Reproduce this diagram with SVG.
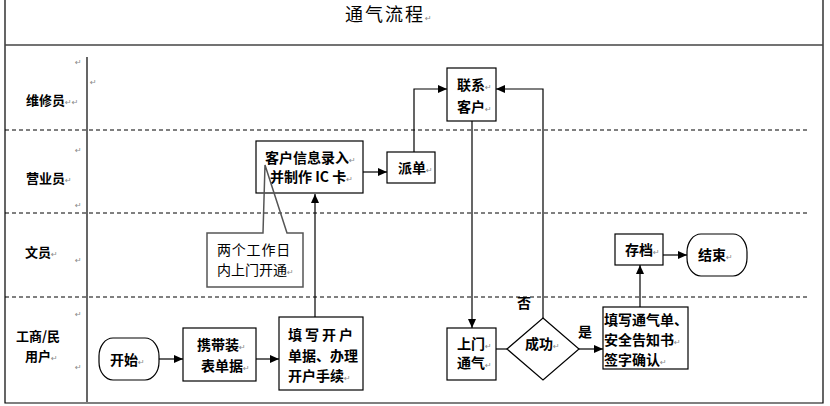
<svg xmlns="http://www.w3.org/2000/svg" width="830" height="406" viewBox="0 0 830 406">
<style>
  .t { font-family: "Noto Sans CJK SC", "Liberation Sans", sans-serif; font-size: 14px; font-weight: bold; fill: #000; }
  .lane { font-family: "Noto Sans CJK SC", "Liberation Sans", sans-serif; font-size: 13px; font-weight: bold; fill: #000; }
  .reg { font-family: "Noto Sans CJK SC", "Liberation Sans", sans-serif; font-size: 14px; font-weight: normal; fill: #000; }
  .title { font-family: "Noto Sans CJK SC", "Liberation Serif", serif; font-size: 18px; letter-spacing: 2px; fill: #000; }
  .pm { font-family: "DejaVu Sans", sans-serif; font-size: 8px; font-weight: normal; letter-spacing: 0; fill: #888; }
  .box { fill: #fff; stroke: #000; stroke-width: 1.2; }
  .dash { stroke: #000; stroke-width: 1; stroke-dasharray: 4 3; fill: none; }
  .conn { stroke: #000; stroke-width: 1.2; fill: none; }
  .arr { marker-end: url(#ah); }
</style>
<defs>
  <marker id="ah" markerUnits="userSpaceOnUse" markerWidth="10" markerHeight="8" refX="9" refY="4" orient="auto">
    <path d="M0,0 L9,4 L0,8 Z" fill="#000"/>
  </marker>
</defs>
<rect x="0" y="0" width="830" height="406" fill="#fff"/>

<!-- frame & lanes -->
<g id="frame">
  <polyline points="5,0 5,403 823,403 823,0" fill="none" stroke="#000" stroke-width="1.2"/>
  <line x1="5" y1="45" x2="823" y2="45" stroke="#444" stroke-width="1.5"/>
  <line x1="87" y1="57" x2="87" y2="402" stroke="#000" stroke-width="1.2"/>
  <line class="dash" x1="5" y1="130" x2="808" y2="130"/>
  <line class="dash" x1="5" y1="213" x2="808" y2="213"/>
  <line class="dash" x1="5" y1="297" x2="808" y2="297"/>
  <text class="title" x="345" y="21">通气流程<tspan class="pm" font-size="9">↵</tspan></text>
</g>

<g id="lane-labels">
  <text class="lane" x="26" y="105">维修员<tspan class="pm">↵↵</tspan></text>
  <text class="lane" x="26" y="183">营业员<tspan class="pm">↵</tspan></text>
  <text class="lane" x="25" y="257">文员<tspan class="pm">↵</tspan></text>
  <text class="lane" x="16" y="341">工商/民</text>
  <text class="lane" x="25" y="361">用户<tspan class="pm">↵</tspan></text>
  <text class="pm" x="75" y="65">↵</text>
  <text class="pm" x="90" y="85">↵</text>
  <text class="pm" x="75" y="153">↵</text>
  <text class="pm" x="75" y="208">↵</text>
  <text class="pm" x="75" y="263">↵</text>
  <text class="pm" x="75" y="317">↵</text>
  <text class="pm" x="75" y="370">↵</text>
</g>

<!-- connectors -->
<g id="connectors">
  <line class="conn arr" x1="159" y1="359" x2="183" y2="359"/>
  <line class="conn arr" x1="256" y1="359" x2="279" y2="359"/>
  <line class="conn arr" x1="315" y1="317" x2="315" y2="194"/>
  <line class="conn arr" x1="363" y1="172" x2="387" y2="172"/>
  <polyline class="conn arr" points="414,152 414,89 447,89"/>
  <line class="conn arr" x1="472" y1="121" x2="472" y2="328"/>
  <line class="conn" x1="496" y1="349" x2="507" y2="349"/>
  <polyline class="conn arr" points="543,318 543,89 496,89"/>
  <line class="conn arr" x1="579" y1="349" x2="603" y2="349"/>
  <line class="conn arr" x1="640" y1="307" x2="640" y2="265"/>
  <line class="conn arr" x1="663" y1="255" x2="687" y2="255"/>
  <text class="t" x="517" y="308">否</text>
  <text class="t" x="578" y="337">是</text>
</g>

<g id="n-start">
  <rect class="box" x="99" y="338" width="60" height="42" rx="14" ry="18"/>
  <text class="t" x="110" y="365">开始<tspan class="pm">↵</tspan></text>
</g>
<g id="n-carry">
  <rect class="box" x="183" y="328" width="73" height="53"/>
  <text class="t" x="197" y="350">携带装<tspan class="pm">↵</tspan></text>
  <text class="t" x="201" y="371">表单据<tspan class="pm">↵</tspan></text>
</g>
<g id="n-fill">
  <rect class="box" x="279" y="317" width="84" height="73"/>
  <text class="t" x="288" y="340" letter-spacing="3">填写开户</text>
  <text class="t" x="288" y="361">单据、办理</text>
  <text class="t" x="288" y="381">开户手续<tspan class="pm">↵</tspan></text>
</g>
<g id="n-input">
  <rect class="box" x="256" y="141" width="107" height="52"/>
  <text class="t" x="265" y="163">客户信息录入<tspan class="pm">↵</tspan></text>
  <text class="t" x="270" y="182">并制作 IC 卡<tspan class="pm">↵</tspan></text>
</g>
<g id="n-callout">
  <path d="M207,233 H263 L265,165 L287,233 H303 V287 H207 Z" fill="none" stroke="#555" stroke-width="1.5"/>
  <rect x="208" y="234" width="94" height="52" fill="#fff"/>
  <text class="reg" x="217" y="255" letter-spacing="0.8">两个工作日</text>
  <text class="reg" x="217" y="275">内上门开通<tspan class="pm">↵</tspan></text>
</g>
<g id="n-dispatch">
  <rect class="box" x="387" y="152" width="48" height="31"/>
  <text class="t" x="398" y="173">派单<tspan class="pm">↵</tspan></text>
</g>
<g id="n-contact">
  <rect class="box" x="447" y="68" width="49" height="53"/>
  <text class="t" x="457" y="90">联系<tspan class="pm">↵</tspan></text>
  <text class="t" x="457" y="112">客户<tspan class="pm">↵</tspan></text>
</g>
<g id="n-visit">
  <rect class="box" x="447" y="328" width="49" height="52"/>
  <text class="t" x="457" y="349">上门<tspan class="pm">↵</tspan></text>
  <text class="t" x="457" y="368">通气<tspan class="pm">↵</tspan></text>
</g>
<g id="n-success">
  <polygon class="box" points="543,318 579,349 543,380 507,349"/>
  <text class="t" x="525" y="349">成功<tspan class="pm">↵</tspan></text>
</g>
<g id="n-sign">
  <rect class="box" x="603" y="307" width="85" height="62"/>
  <text class="t" x="604" y="325">填写通气单、</text>
  <text class="t" x="604" y="345">安全告知书<tspan class="pm">↵</tspan></text>
  <text class="t" x="604" y="365">签字确认<tspan class="pm">↵</tspan></text>
</g>
<g id="n-archive">
  <rect class="box" x="615" y="234" width="48" height="31"/>
  <text class="t" x="625" y="255">存档<tspan class="pm">↵</tspan></text>
</g>
<g id="n-end">
  <rect class="box" x="687" y="234" width="60" height="42" rx="14" ry="18"/>
  <text class="t" x="698" y="260">结束<tspan class="pm">↵</tspan></text>
</g>
</svg>
